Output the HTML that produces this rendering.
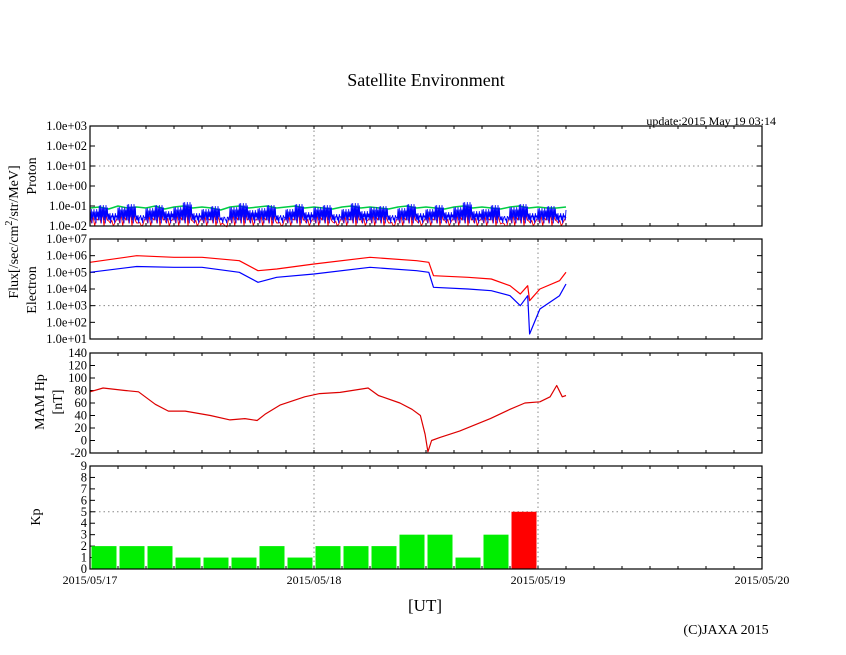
<!DOCTYPE html>
<html><head><meta charset="utf-8"><style>
html,body{margin:0;padding:0;background:#fff;}
svg{display:block;font-family:"Liberation Serif",serif;}
</style></head><body>
<svg id="c" width="846" height="655" xmlns="http://www.w3.org/2000/svg">
<text x="426" y="86" font-size="18" text-anchor="middle">Satellite Environment</text>
<text x="776" y="125" font-size="12" text-anchor="end">update:2015 May 19 03:14</text>
<text x="425" y="611" font-size="17" text-anchor="middle">[UT]</text>
<text x="726" y="634" font-size="14" text-anchor="middle">(C)JAXA 2015</text>
<text transform="translate(18,232) rotate(-90)" font-size="14" text-anchor="middle">Flux[/sec/cm<tspan dy="-6" font-size="10">2</tspan><tspan dy="6">/str/MeV]</tspan></text>
<text transform="translate(36,176) rotate(-90)" font-size="14" text-anchor="middle">Proton</text>
<text transform="translate(36,290) rotate(-90)" font-size="14" text-anchor="middle">Electron</text>
<text transform="translate(44,402) rotate(-90)" font-size="14" text-anchor="middle">MAM Hp</text>
<text transform="translate(62,402) rotate(-90)" font-size="14" text-anchor="middle">[nT]</text>
<text transform="translate(40,517) rotate(-90)" font-size="14" text-anchor="middle">Kp</text>
</svg>
<script>
const xTickLabels=["2015/05/17","2015/05/18","2015/05/19","2015/05/20"];
const protonLog=[-1.3,-1.1,-1.5,-1.2,-1.05,-1.6,-1.25,-1.1,-1.4,-1.2,-0.95,-1.5,-1.3,-1.15,-1.7,-1.2,-1.0,-1.35,-1.25,-1.1,-1.6,-1.3,-1.05,-1.45,-1.2,-1.1,-1.55,-1.3,-1.0,-1.4,-1.2,-1.15,-1.6,-1.25,-1.05,-1.5,-1.3,-1.1,-1.45,-1.2,-0.95,-1.4,-1.3,-1.1,-1.65,-1.2,-1.05,-1.5,-1.25,-1.15,-1.5,-1.3];
const protonLogG=[-1.1,-1.05,-1.15,-1.0,-1.1,-1.05,-1.1,-1.0,-1.15,-1.05,-1.0,-1.1,-1.05,-1.1,-1.2,-1.05,-1.0,-1.1,-1.05,-1.0,-1.1,-1.05,-1.0,-1.1,-1.05,-1.1,-1.15,-1.05,-1.0,-1.1,-1.05,-1.1,-1.15,-1.05,-1.0,-1.1,-1.05,-1.1,-1.15,-1.05,-1.0,-1.1,-1.05,-1.1,-1.15,-1.05,-1.0,-1.1,-1.05,-1.1,-1.1,-1.05];
const elecHours=[0,5,9,12,16,18,20,24,30,35,36.3,36.8,40.5,43,45,46.1,46.9,47.1,48.2,50.3,51];
const elecRed=[5.6,6.0,5.9,5.9,5.7,5.1,5.2,5.5,5.9,5.7,5.6,4.8,4.7,4.6,4.2,3.7,4.2,3.3,4.0,4.5,5.0];
const elecBlue=[5.0,5.35,5.3,5.3,5.0,4.4,4.7,4.9,5.3,5.1,5.0,4.1,4.0,3.9,3.6,3.0,3.6,1.3,2.8,3.6,4.3];
const mamHours=[0,1.4,3.75,5.2,7,8.4,10.2,12.9,15,16.6,17.9,18.75,20.4,23,24.6,26.8,29.8,30.9,33.2,34.5,35.4,35.9,36.2,36.6,37.5,39.6,42.9,45,46.6,48.2,49.3,50,50.6,51];
const mamVals=[78,84,80,78,58,47,47,40,33,35,32,42,57,70,75,77,84,72,60,50,40,10,-18,0,5,15,35,50,60,62,70,88,70,72];
const kpVals=[2,2,2,1,1,1,2,1,2,2,2,3,3,1,3,5];
const kpColors=["#00ee00","#00ee00","#00ee00","#00ee00","#00ee00","#00ee00","#00ee00","#00ee00","#00ee00","#00ee00","#00ee00","#00ee00","#00ee00","#00ee00","#00ee00","#ff0000"];

const svg=document.getElementById('c');
const NS="http://www.w3.org/2000/svg";
const X0=90,X1=762;
const xs=h=>X0+(X1-X0)*h/72;
function el(t,a,p){const e=document.createElementNS(NS,t);for(const k in a)e.setAttribute(k,a[k]);(p||svg).appendChild(e);return e;}
const panels={
 proton:{top:126,bot:226,min:-2,max:3},
 electron:{top:239,bot:339,min:1,max:7},
 mam:{top:353,bot:453,min:-20,max:140},
 kp:{top:466,bot:569,min:0,max:9}
};
function ys(p,v){return p.bot-(v-p.min)/(p.max-p.min)*(p.bot-p.top);}
function frame(name,p,ticks,labels,grid){
 const g=el('g',{});
 
 
 [24,48].forEach(h=>el('line',{x1:xs(h),x2:xs(h),y1:p.top,y2:p.bot,stroke:'#888','stroke-dasharray':'1.5,3'},g));
 grid.forEach(v=>el('line',{x1:X0,x2:X1,y1:ys(p,v),y2:ys(p,v),stroke:'#888','stroke-dasharray':'1.5,3'},g));
 ticks.forEach((v,i)=>{const y=ys(p,v);
  el('line',{x1:X0,x2:X0+5,y1:y,y2:y,stroke:'#000'},g);
  el('line',{x1:X1,x2:X1-5,y1:y,y2:y,stroke:'#000'},g);
  const t=el('text',{x:X0-3,y:y+4,'font-size':12.5,'text-anchor':'end'},g);t.textContent=labels[i];
  
  
 });
 for(let h=3;h<72;h+=3){el('line',{x1:xs(h),x2:xs(h),y1:p.bot,y2:p.bot-3,stroke:'#000'},g);el('line',{x1:xs(h),x2:xs(h),y1:p.top,y2:p.top+3,stroke:'#000'},g);}
 return g;
}
function border(p){el('rect',{x:X0,y:p.top,width:X1-X0,height:p.bot-p.top,fill:'none',stroke:'#000','stroke-width':1.2});}
function line(p,hs,vs,color,name,w){
 const d=hs.map((h,i)=>(i?'L':'M')+xs(h).toFixed(1)+','+ys(p,vs[i]).toFixed(1)).join('');
 const e=el('path',{d:d,fill:'none',stroke:color,'stroke-width':w||1.2,'stroke-linejoin':'round'});
 
 
 return e;
}
const P=panels.proton;
frame('proton',P,[-2,-1,0,1,2,3],["1.0e-02","1.0e-01","1.0e+00","1.0e+01","1.0e+02","1.0e+03"],[1]);
const ph=protonLog.map((v,i)=>i*51/(protonLog.length-1));
function noisy(vals,low,color,name,n){
 const hs=[],vs=[];vals.forEach((v,i)=>{const h=ph[i];hs.push(h);vs.push(v);if(i<vals.length-1){const step=1/n;for(let k=1;k<n;k++){hs.push(h+k*step);vs.push(k%2?low+(k%3)*0.15:v+((k%4)-1.5)*0.06);}}});
 return line(P,hs,vs,color,name,0.9);
}
noisy(protonLog.map(v=>v-0.25),-2,'#ff0000','proton-red-series',6);
line(P,ph,protonLogG,'#00cc44','proton-green-series',1.5);
noisy(protonLog.map(v=>v+0.1),-1.85,'#0000ff','proton-blue-series',14);
border(P);
const E=panels.electron;
frame('electron',E,[1,2,3,4,5,6,7],["1.0e+01","1.0e+02","1.0e+03","1.0e+04","1.0e+05","1.0e+06","1.0e+07"],[3]);
line(E,elecHours,elecRed,'#ff0000','electron-red-series');
line(E,elecHours,elecBlue,'#0000ff','electron-blue-series');
border(E);
const M=panels.mam;
const mt=[-20,0,20,40,60,80,100,120,140];
frame('mam',M,mt,mt.map(String),[]);
line(M,mamHours,mamVals,'#dd0000','mam-hp-series');
border(M);
const K=panels.kp;
const kt=[0,1,2,3,4,5,6,7,8,9];
frame('kp',K,kt,kt.map(String),[5]);
kpVals.forEach((v,i)=>{
 const r=el('rect',{x:xs(i*3)+1.5,y:ys(K,v),width:xs(3)-xs(0)-3,height:ys(K,0)-ys(K,v),fill:kpColors[i]});
 
 
});
border(K);
xTickLabels.forEach((s,i)=>{const t=el('text',{x:xs(i*24),y:584,'font-size':12,'text-anchor':'middle'});t.textContent=s;
 
 
});
</script>
</body></html>
